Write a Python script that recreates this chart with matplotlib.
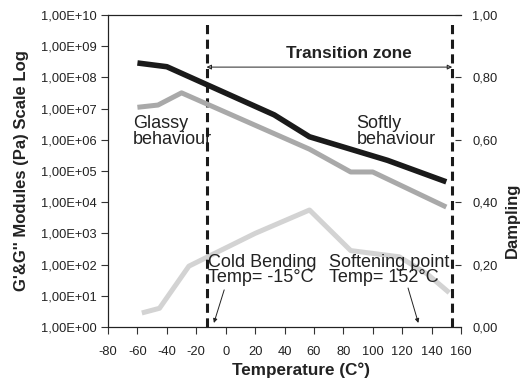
import matplotlib
matplotlib.use("Agg")
import matplotlib.pyplot as plt
import numpy as np

plt.rcParams['font.family'] = ['Liberation Sans', 'DejaVu Sans']

# G' (storage modulus), Pa
g1_temp = [-60, -40, 33, 57, 110, 150]
g1_val = [2.9e8, 2.2e8, 6.3e6, 1.25e6, 2.2e5, 4.5e4]
# G'' (loss modulus), Pa
g2_temp = [-60, -46, -30, 57, 85, 100, 150]
g2_val = [1.1e7, 1.3e7, 3.2e7, 5.0e5, 9.3e4, 9.3e4, 7.0e3]
# Damping (right axis)
d_temp = [-57, -45, -25, 20, 57, 85, 118, 137, 152]
d_val = [0.045, 0.06, 0.195, 0.30, 0.375, 0.245, 0.225, 0.17, 0.11]

x_ticks = list(range(-80, 161, 20))
y_left_ticks = [10.0 ** k for k in range(0, 11)]
y_left_labels = ["1,00E+%02d" % k for k in range(0, 11)]
y_right_ticks = [0.0, 0.2, 0.4, 0.6, 0.8, 1.0]
y_right_labels = ["0,00", "0,20", "0,40", "0,60", "0,80", "1,00"]

cold_temp = -13
soft_temp = 154

TXT = '#222222'
fig = plt.figure(figsize=(5.27, 3.82), dpi=100)
ax = fig.add_axes([108/527, 1-327/382, (461-108)/527, (327-15)/382])
ax.set_yscale('log')
ax.set_xlim(-80, 160)
ax.set_ylim(1, 1e10)

ax2 = ax.twinx()
ax2.set_ylim(0, 1.0)

ax2.plot(d_temp, d_val, color='#d3d3d3', lw=3.6, solid_capstyle='butt', zorder=1)
ax.plot(g2_temp, g2_val, color='#a9a9a9', lw=3.6, solid_capstyle='butt', zorder=2)
ax.plot(g1_temp, g1_val, color='#1a1a1a', lw=4.0, solid_capstyle='butt', zorder=3)
ax.set_zorder(ax2.get_zorder() + 1)
ax.patch.set_visible(False)

for t in (cold_temp, soft_temp):
    ax2.plot([t, t], [0, 0.98], color='#1a1a1a', lw=2.2, ls=(0, (3, 1.8)), zorder=4)

ax.set_xticks(x_ticks)
ax.set_xticklabels([str(v) for v in x_ticks], fontsize=9.3)
ax.set_yticks(y_left_ticks)
ax.set_yticklabels(y_left_labels, fontsize=9.3)
ax.yaxis.set_minor_locator(matplotlib.ticker.NullLocator())
ax.tick_params(axis='both', direction='out', length=5, width=0.8, color='#333333', labelcolor=TXT, pad=3)
ax.tick_params(axis='x', pad=9)
ax2.set_yticks(y_right_ticks)
ax2.set_yticklabels(y_right_labels, fontsize=9.3)
ax2.tick_params(axis='y', direction='in', length=4, width=0.8, color='#333333', labelcolor=TXT, pad=8)

for a in (ax, ax2):
    a.spines['right'].set_visible(False)
    for s in ('left', 'top', 'bottom'):
        a.spines[s].set_linewidth(0.8)
        a.spines[s].set_color(TXT)

fig.text(22/527, 1-171/382, "G'&G'' Modules (Pa) Scale Log", rotation=90, fontsize=12, fontweight='bold', color=TXT, ha='center', va='center')
fig.text(512/527, 1-220/382, "Dampling", rotation=90, fontsize=12, fontweight='bold', color=TXT, ha='center', va='center')
fig.text(301/527, 1-370/382, "Temperature (C°)", fontsize=12.3, fontweight='bold', color=TXT, ha='center', va='center')

# Transition zone arrow
ax2.annotate("", xy=(cold_temp, 0.833), xytext=(soft_temp, 0.833),
             arrowprops=dict(arrowstyle='<|-|>', lw=0.7, color=TXT, mutation_scale=7, shrinkA=0, shrinkB=0, fill=False))
ax2.text(84, 0.878, "Transition zone", fontsize=12.3, fontweight='bold', color=TXT, ha='center', va='center')

fs = 13
ax2.text(-63, 0.68, "Glassy\nbehaviour", fontsize=fs, color=TXT, ha='left', va='top', linespacing=0.9)
ax2.text(89, 0.68, "Softly\nbehaviour", fontsize=fs, color=TXT, ha='left', va='top', linespacing=0.9)
ax2.text(-12, 0.235, "Cold Bending\nTemp= -15°C", fontsize=fs, color=TXT, ha='left', va='top', linespacing=0.9)
ax2.text(70, 0.235, "Softening point\nTemp= 152°C", fontsize=fs, color=TXT, ha='left', va='top', linespacing=0.9)

ax2.annotate("", xy=(-8, 0.013), xytext=(-1, 0.119),
             arrowprops=dict(arrowstyle='-|>', lw=0.7, color=TXT, mutation_scale=6, shrinkA=0, shrinkB=0))
ax2.annotate("", xy=(131, 0.013), xytext=(124, 0.125),
             arrowprops=dict(arrowstyle='-|>', lw=0.7, color=TXT, mutation_scale=6, shrinkA=0, shrinkB=0))

fig.savefig("out.png", dpi=100)
